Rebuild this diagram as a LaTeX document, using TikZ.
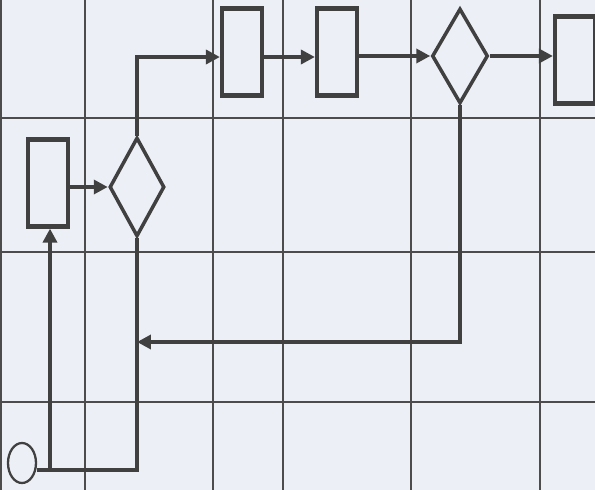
\documentclass[tikz,border=0pt]{standalone}
\usepackage{tikz}
\usetikzlibrary{arrows.meta,shapes.geometric}

\begin{document}
\begin{tikzpicture}[
                x=0.02cm, y=-0.02cm,
                blk/.style={rectangle, draw=black!75, line width=2.4pt, fill=paper, inner sep=0pt, minimum width=0.8cm, minimum height=1.74cm},
                dec/.style={diamond, draw=black!75, line width=2pt, fill=paper, inner sep=0pt, aspect=0.55},
                term/.style={ellipse, draw=black!75, line width=1.3pt, fill=paper, inner sep=0pt, minimum width=0.56cm, minimum height=0.8cm},
                flow/.style={draw=black!75, line width=2.3pt, -{Triangle[length=2.8mm, width=2.8mm]}},
                link/.style={draw=black!75, line width=2.3pt},
                gridln/.style={draw=black!70, line width=0.8pt},
            ]
            \definecolor{paper}{RGB}{237,239,247}
            % --- 背景与网格 ---
            \fill[paper] (0,0) rectangle (595,490);
            \useasboundingbox (0,0) rectangle (595,490);
            \foreach \gx in {1,85,213,283,411,540} \draw[gridln] (\gx,0) -- (\gx,490);
            \foreach \gy in {118,252,402} \draw[gridln] (0,\gy) -- (595,\gy);
            % --- 框与判断 ---
            \node[term] (start) at (22,463) {};
            \node[blk] (blk1) at (48,183) {};
            \node[dec, minimum width=1.1cm, minimum height=1.98cm] (dec1) at (137,187) {};
            \node[blk] (blk2) at (242,52) {};
            \node[blk] (blk3) at (337,52) {};
            \node[dec, minimum width=1.12cm, minimum height=1.9cm] (dec2) at (460,56) {};
            \node[blk] (blk4) at (575,60) {};
            % --- 折点 ---
            \coordinate (j1) at (50,470);
            \coordinate (j2) at (137,470);
            \coordinate (k1) at (137,57);
            \coordinate (k2) at (460,342);
            \coordinate (k3) at (137,342);
            % --- 连线 ---
            \draw[link] (j1 -| start.east) -- (j1) -- (j2) -- (dec1.south);
            \draw[flow] (j1) -- (j1 |- blk1.south);
            \draw[flow] (dec1.west -| blk1.east) -- (dec1.west);
            \draw[flow] (dec1.north) -- (k1) -- (k1 -| blk2.west);
            \draw[flow] (k1 -| blk2.east) -- (k1 -| blk3.west);
            \draw[flow] (dec2.west -| blk3.east) -- (dec2.west);
            \draw[flow] (dec2.east) -- (dec2.east -| blk4.west);
            \draw[flow] (dec2.south) -- (k2) -- (k3);
        \end{tikzpicture}
\end{document}
